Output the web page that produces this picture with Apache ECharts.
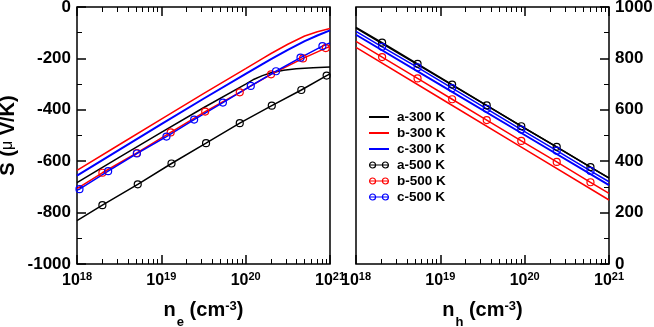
<!DOCTYPE html>
<html><head><meta charset="utf-8">
<script src="https://cdn.jsdelivr.net/npm/echarts@6/dist/echarts.min.js"></script>
<style>html,body{margin:0;padding:0;background:#fff}#c{width:654px;height:327px}</style>
</head><body><div id="c"></div>
<script>
// ---------- data ----------
// Left panel: S (uV/K) vs electron density n_e (cm^-3)
const eLineX   = [1e18, 3.16e18, 1e19, 3.16e19, 1e20, 1.58e20, 2.0e20, 3.16e20, 5.01e20, 7.08e20, 1e21];
const eB300y   = [-636, -536, -436, -337, -240, -201, -181, -145, -113, -96, -84];
const eC300y   = [-656, -556, -456, -357, -260, -222, -203, -167, -133, -111, -91];
const eA300x   = [1e18, 3.16e18, 1e19, 3.16e19, 1e20, 1.26e20, 1.58e20, 2.0e20, 2.82e20, 3.98e20, 6.31e20, 1e21];
const eA300y   = [-683, -585, -488, -392, -300, -281, -267, -256, -246, -240, -236, -233];
const eA500x   = [1e18, 2.0e18, 5.25e18, 1.32e19, 3.39e19, 8.51e19, 2.04e20, 4.57e20, 9.12e20, 1e21];
const eA500y   = [-831, -771, -690, -609, -530, -452, -384, -323, -267, -260];
const eB500x   = [1e18, 2.0e18, 5.13e18, 1.29e19, 3.31e19, 8.51e19, 2.0e20, 4.79e20, 8.91e20, 1e21];
const eB500y   = [-707, -645, -568, -488, -407, -332, -262, -200, -160, -154];
const eC500x   = [1e18, 1.07e18, 2.34e18, 5.13e18, 1.15e19, 2.45e19, 5.37e19, 1.15e20, 2.29e20, 4.47e20, 8.13e20, 1e21];
const eC500y   = [-712, -709, -639, -570, -504, -438, -372, -307, -250, -197, -152, -140];
// Right panel: S (uV/K) vs hole density n_h (cm^-3)
const hLineX   = [1e18, 1e19, 1e20, 1e21];
const hA300y   = [918, 723, 529, 334];
const hB300y   = [843, 645, 447, 249];
const hC300y   = [892, 697, 502, 307];
const hMarkX   = [1e18, 2.04e18, 5.37e18, 1.38e19, 3.55e19, 9.12e19, 2.40e20, 6.03e20, 1e21];
const hA500y   = [921, 861, 779, 698, 617, 536, 456, 377, 335];
const hB500y   = [866, 805, 722, 641, 560, 479, 397, 318, 275];
const hC500y   = [905, 845, 765, 684, 604, 523, 441, 362, 320];
// axis ticks
const xDecades = [18, 19, 20, 21];
const yLeftTicks = [-1000, -800, -600, -400, -200, 0];
const yRightTicks = [0, 200, 400, 600, 800, 1000];
const seriesNames = ['a-300 K', 'b-300 K', 'c-300 K', 'a-500 K', 'b-500 K', 'c-500 K'];
const seriesColors = ['#000000', '#ff0000', '#0000ff', '#000000', '#ff0000', '#0000ff'];
const hasMarker = [false, false, false, true, true, true];

// ---------- chart ----------
const FONT = '"Liberation Sans", Arial, Helvetica, sans-serif';
const zip = (xs, ys) => xs.map((x, i) => [x, ys[i]]);

// log-spaced minor tick positions in decade units (2..9 in each decade)
const minorVals = [];
for (let d = xDecades[0]; d < xDecades[xDecades.length - 1]; d++)
  for (let k = 2; k < 10; k++) minorVals.push(d + Math.log10(k));

function plainLine(i, xs, ys, width, idx) {
  const color = seriesColors[i];
  return {
    type: 'line', name: seriesNames[i], xAxisIndex: idx * 4, yAxisIndex: idx,
    data: zip(xs, ys), symbol: 'none', smooth: false,
    lineStyle: { color, width }, itemStyle: { color }, z: 3, clip: true
  };
}
function markerLine(i, xs, ys, idx) {
  const color = seriesColors[i];
  const data = xs.map((x, k) => (k === 0 || k === xs.length - 1)
    ? { value: [x, ys[k]], symbol: 'none' } : [x, ys[k]]);
  return {
    type: 'line', name: seriesNames[i], xAxisIndex: idx * 4, yAxisIndex: idx,
    data, symbol: 'circle', symbolSize: 7, showAllSymbol: true, smooth: false,
    lineStyle: { color, width: 1.5 },
    itemStyle: { color: 'rgba(255,255,255,0)', borderColor: color, borderWidth: 1.2 },
    z: 4, clip: true
  };
}

const tickRich = {
  b: { fontSize: 16, fontWeight: 'bold', fontFamily: FONT, color: '#000', lineHeight: 20, verticalAlign: 'middle' },
  s: { fontSize: 11, fontWeight: 'bold', fontFamily: FONT, color: '#000', lineHeight: 11, verticalAlign: 'top' }
};
const titleRich = {
  n: { fontSize: 20, fontWeight: 'bold', fontFamily: FONT, color: '#000', lineHeight: 24, verticalAlign: 'top' },
  sb: { fontSize: 13, fontWeight: 'bold', fontFamily: FONT, color: '#000', lineHeight: 13, padding: [16, 0, 0, 1], verticalAlign: 'top' },
  sp: { fontSize: 13, fontWeight: 'bold', fontFamily: FONT, color: '#000', lineHeight: 13, verticalAlign: 'top' }
};

function majorX(grid, pos, showLabel, name) {
  return {
    type: 'log', logBase: 10, gridIndex: grid, position: pos,
    min: Math.pow(10, xDecades[0]), max: Math.pow(10, xDecades[xDecades.length - 1]),
    axisLine: { show: false, onZero: false },
    axisTick: { show: true, inside: true, length: 9, lineStyle: { color: '#000', width: 1.5 } },
    axisLabel: {
      show: showLabel, margin: 7,
      formatter: v => '{b|10}{s|' + Math.round(Math.log10(v)) + '}', rich: tickRich
    },
    splitLine: { show: false }, minorTick: { show: false },
    name: name || '', nameLocation: 'middle', nameGap: 36,
    nameTextStyle: { rich: titleRich }
  };
}
function minorX(grid, pos) {
  return {
    type: 'value', gridIndex: grid, position: pos,
    min: xDecades[0], max: xDecades[xDecades.length - 1],
    axisLine: { show: false, onZero: false },
    axisTick: { show: true, inside: true, length: 5, customValues: minorVals, lineStyle: { color: '#000', width: 1 } },
    axisLabel: { show: false }, splitLine: { show: false }
  };
}
function yAx(grid, pos, ticks, name) {
  return {
    type: 'value', gridIndex: grid, position: pos,
    min: ticks[0], max: ticks[ticks.length - 1], interval: ticks[1] - ticks[0],
    axisLine: { show: false, onZero: false },
    axisTick: { show: true, inside: true, length: 9, lineStyle: { color: '#000', width: 1.5 } },
    minorTick: { show: true, splitNumber: 2, length: 5, lineStyle: { color: '#000', width: 1 } },
    axisLabel: { fontSize: 17, fontWeight: 'bold', fontFamily: FONT, color: '#000', margin: 6, formatter: v => String(v) },
    splitLine: { show: false }, minorSplitLine: { show: false },
    name: name || '', nameLocation: 'middle', nameRotate: 90, nameGap: 59,
    nameTextStyle: {
      rich: {
        a: { fontSize: 20, fontWeight: 'bold', fontFamily: FONT, color: '#000', lineHeight: 20 },
        m: { fontSize: 16, fontWeight: 'normal', fontFamily: FONT, color: '#000', lineHeight: 20 }
      }
    }
  };
}

// legend icon: line with an open circle at each end (as in the reference legend)
const markerIcon = 'path://M0,4L20,4M0.6,4a3,3 0 1,0 6,0a3,3 0 1,0 -6,0M13.4,4a3,3 0 1,0 6,0a3,3 0 1,0 -6,0';

const gridBase = { top: 7, width: 253, height: 257, show: true, borderColor: '#000', borderWidth: 1.5,
  backgroundColor: 'transparent', containLabel: false, outerBoundsMode: 'none' };

const chart = echarts.init(document.getElementById('c'), null, { renderer: 'canvas' });
chart.setOption({
  animation: false,
  backgroundColor: '#ffffff',
  textStyle: { fontFamily: FONT },
  grid: [
    Object.assign({ left: 77 }, gridBase),
    Object.assign({ left: 356 }, gridBase)
  ],
  xAxis: [
    majorX(0, 'bottom', true, '{n|n}{sb|e}{n| (cm}{sp|-3}{n|)}'), minorX(0, 'bottom'),
    majorX(0, 'top', false), minorX(0, 'top'),
    majorX(1, 'bottom', true, '{n|n}{sb|h}{n| (cm}{sp|-3}{n|)}'), minorX(1, 'bottom'),
    majorX(1, 'top', false), minorX(1, 'top')
  ],
  yAxis: [
    yAx(0, 'left', yLeftTicks, '{a|S (}{m|μ}{a| V/K)}'),
    yAx(1, 'right', yRightTicks, '')
  ],
  legend: {
    data: seriesNames.map((n, i) => hasMarker[i]
      ? { name: n, icon: markerIcon, itemStyle: { color: 'rgba(255,255,255,0)', borderColor: seriesColors[i], borderWidth: 1.2 } }
      : { name: n, itemStyle: { opacity: 0 } }),
    orient: 'vertical', left: 363, top: 105,
    itemWidth: 20, itemHeight: 6, itemGap: 2,
    textStyle: { fontSize: 13.5, fontWeight: 'bold', fontFamily: FONT, color: '#000', lineHeight: 12, padding: [0, 0, 0, 3] },
    selectedMode: false
  },
  series: [
    plainLine(0, eA300x, eA300y, 1.5, 0),
    plainLine(1, eLineX, eB300y, 1.5, 0),
    plainLine(2, eLineX, eC300y, 2, 0),
    markerLine(3, eA500x, eA500y, 0),
    markerLine(4, eB500x, eB500y, 0),
    markerLine(5, eC500x, eC500y, 0),
    plainLine(0, hLineX, hA300y, 1.5, 1),
    plainLine(1, hLineX, hB300y, 1.5, 1),
    plainLine(2, hLineX, hC300y, 2, 1),
    markerLine(3, hMarkX, hA500y, 1),
    markerLine(4, hMarkX, hB500y, 1),
    markerLine(5, hMarkX, hC500y, 1)
  ]
});
</script></body></html>
